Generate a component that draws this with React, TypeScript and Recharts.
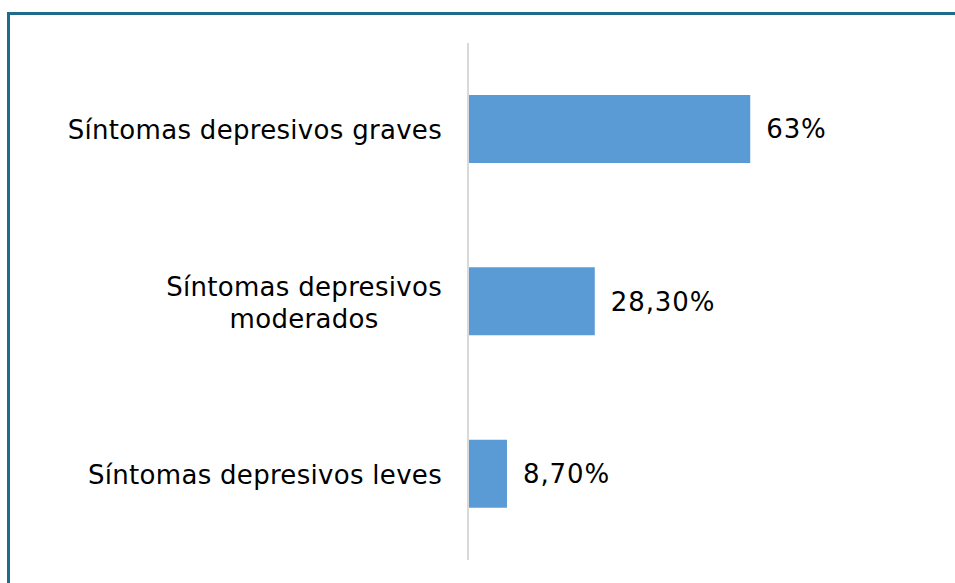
import { Bar, BarChart, LabelList, XAxis, YAxis } from "recharts";

const categories = ["Síntomas depresivos graves", "Síntomas depresivos\nmoderados", "Síntomas depresivos leves"];
const values = [63, 28.3, 8.7];
const valueLabels = ["63%", "28,30%", "8,70%"];

const data = categories.map((name, i) => ({ name, value: values[i], label: valueLabels[i] }));

const FONT = "'DejaVu Sans', Verdana, sans-serif";
const FONT_SIZE = 26;
const SPACING = 0.3;
const LINE_HEIGHT = 32;

function measure(text: string) {
  const ctx = document.createElement("canvas").getContext("2d");
  if (!ctx) return text.length * FONT_SIZE * 0.6;
  ctx.font = `${FONT_SIZE}px 'DejaVu Sans'`;
  return ctx.measureText(text).width + text.length * SPACING;
}

function CategoryTick(props: any) {
  const { x, y, payload } = props;
  const lines: string[] = String(payload.value).split("\n");
  const widths = lines.map(measure);
  const blockW = Math.max(...widths);
  const cx = x - blockW / 2;
  const startY = y + 1 - ((lines.length - 1) * LINE_HEIGHT) / 2;
  return (
    <g>
      {lines.map((line, i) => (
        <text
          key={i}
          x={cx}
          y={startY + i * LINE_HEIGHT}
          dy="0.35em"
          textAnchor="middle"
          fill="#000"
          fontSize={FONT_SIZE}
          fontFamily={FONT}
          letterSpacing={SPACING}
        >
          {line}
        </text>
      ))}
    </g>
  );
}

export default function App() {
  return (
    <div style={{ position: "absolute", left: 0, top: 0, width: 955, height: 583, background: "#fff" }}>
      <div
        style={{
          position: "absolute",
          left: 7,
          top: 12,
          right: 0,
          bottom: 0,
          borderLeft: "3px solid #1F6B8C",
          borderTop: "3px solid #1F6B8C",
        }}
      />
      <div style={{ position: "absolute", left: 0, top: 0 }}>
        <BarChart
          width={955}
          height={583}
          data={data}
          layout="vertical"
          margin={{ top: 43, right: 39, bottom: 23, left: 0 }}
        >
          <XAxis type="number" domain={[0, 100]} hide />
          <YAxis
            type="category"
            dataKey="name"
            width={468}
            axisLine={{ stroke: "#D9D9D9", strokeWidth: 2 }}
            tickLine={false}
            tickSize={0}
            tickMargin={26}
            tick={<CategoryTick />}
            interval={0}
          />
          <Bar dataKey="value" fill="#5B9BD5" barSize={68} isAnimationActive={false}>
            <LabelList
              dataKey="label"
              position="right"
              offset={16}
              fill="#000"
              fontSize={FONT_SIZE}
              fontFamily={FONT}
              letterSpacing={0.9}
            />
          </Bar>
        </BarChart>
      </div>
    </div>
  );
}
